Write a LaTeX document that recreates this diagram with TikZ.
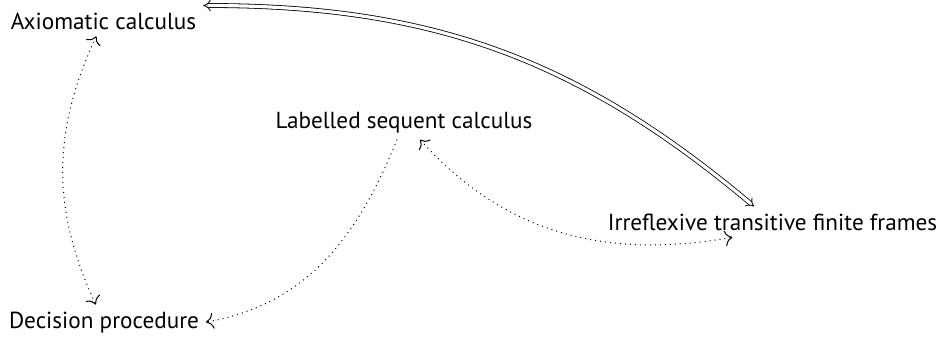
\documentclass[tikz,border=0pt]{standalone}
\usepackage{fontspec}
\setmainfont{PT Sans}
\usetikzlibrary{arrows.meta}

\begin{document}
\begin{tikzpicture}[
        x=0.5pt, y=-0.5pt,
        lbl/.style={anchor=base, inner sep=3.3pt, font=\fontsize{11.6}{13}\selectfont},
        cmtip/.tip={Computer Modern Rightarrow[scale=1.4]},
        dbl/.style={{Implies[scale=1.2]}-{Implies[scale=1.2]}, double, double distance=1.6pt, line width=0.4pt},
        dotarr/.style={dotted, line width=0.5pt}
      ]
        \useasboundingbox (0,0) rectangle (940,338);
        \node[lbl] (ax) at (103.5,29) {Axiomatic calculus};
        \node[lbl] (ls) at (404,128) {Labelled sequent calculus};
        \node[lbl] (ir) at (772.5,230) {Irreflexive transitive finite frames};
        \node[lbl] (dp) at (104,328) {Decision procedure};
        \draw[dbl] (ir.140) to[out=140, in=0] (ax.north east);
        \draw[dotarr, cmtip-cmtip] (ax) to[out=245, in=115] (dp);
        \draw[dotarr, -cmtip] ([xshift=-3.5pt]ls.south) to[out=-112, in=10] (dp.east);
        \draw[dotarr, cmtip-cmtip] ([xshift=8pt]ls.south) to[out=-48, in=190] (ir.201);
      \end{tikzpicture}
\end{document}
